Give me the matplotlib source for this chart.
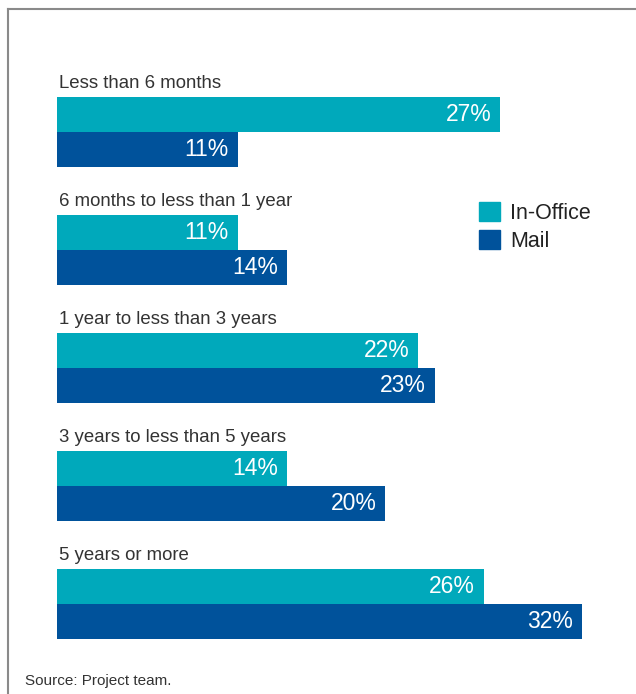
import matplotlib.pyplot as plt
from matplotlib.lines import Line2D
from matplotlib.patches import Patch

# === DATA ===
categories = [
    "Less than 6 months",
    "6 months to less than 1 year",
    "1 year to less than 3 years",
    "3 years to less than 5 years",
    "5 years or more",
]
in_office = [27, 11, 22, 14, 26]
mail = [11, 14, 23, 20, 32]

TEAL = "#00a9bb"
BLUE = "#00529b"

W, H = 636, 694
fig = plt.figure(figsize=(W / 100, H / 100), dpi=100)
plt.rcParams['font.family'] = ['Liberation Sans', 'DejaVu Sans']

# axes placed so that 0% sits at x=57px and one group spans 118px
px_per_group = 118
y_top, y_bot = -0.6, 4.6
top_px = 114.5 + y_top * px_per_group
bot_px = 114.5 + y_bot * px_per_group
left_px = 57
xmax = 35
width_px = xmax * 16.42
ax = fig.add_axes([left_px / W, 1 - bot_px / H, width_px / W, (bot_px - top_px) / H])
ax.set_xlim(0, xmax)
ax.set_ylim(y_bot, y_top)
ax.axis('off')

bar_h = 0.296
for i, (cat, a, b) in enumerate(zip(categories, in_office, mail)):
    ax.barh(i, a, height=bar_h, color=TEAL, align='center')
    ax.barh(i + bar_h, b, height=bar_h, color=BLUE, align='center')
    ax.text(0.1, i - 0.26, cat, ha='left', va='center', fontsize=13.4, color='#333333')
    ax.text(a - 0.55, i, f"{a}%", ha='right', va='center', fontsize=16.5, color='white')
    ax.text(b - 0.55, i + bar_h, f"{b}%", ha='right', va='center', fontsize=16.5, color='white')

# legend with square swatches
handles = [Patch(color=TEAL, label='In-Office'), Patch(color=BLUE, label='Mail')]
fig.legend(handles=handles, loc='upper left', bbox_to_anchor=(468 / W, 1 - 191 / H),
           frameon=False, fontsize=15.5, handlelength=1.0, handleheight=1.0,
           handletextpad=0.45, labelspacing=0.3, borderpad=0, labelcolor='#222222')

# frame lines around the panel
border = '#8a8a8a'
fig.add_artist(Line2D([8 / W, 8 / W], [0, 1 - 9 / H], color=border, lw=1.5))
fig.add_artist(Line2D([8 / W, 1], [1 - 9 / H, 1 - 9 / H], color=border, lw=1.5))

fig.text(25 / W, 1 - 681 / H, "Source: Project team.", ha='left', va='center',
         fontsize=11, color='#333333',
         family=['Liberation Sans Narrow', 'Liberation Sans', 'DejaVu Sans'])

fig.savefig('out.png', dpi=100)
